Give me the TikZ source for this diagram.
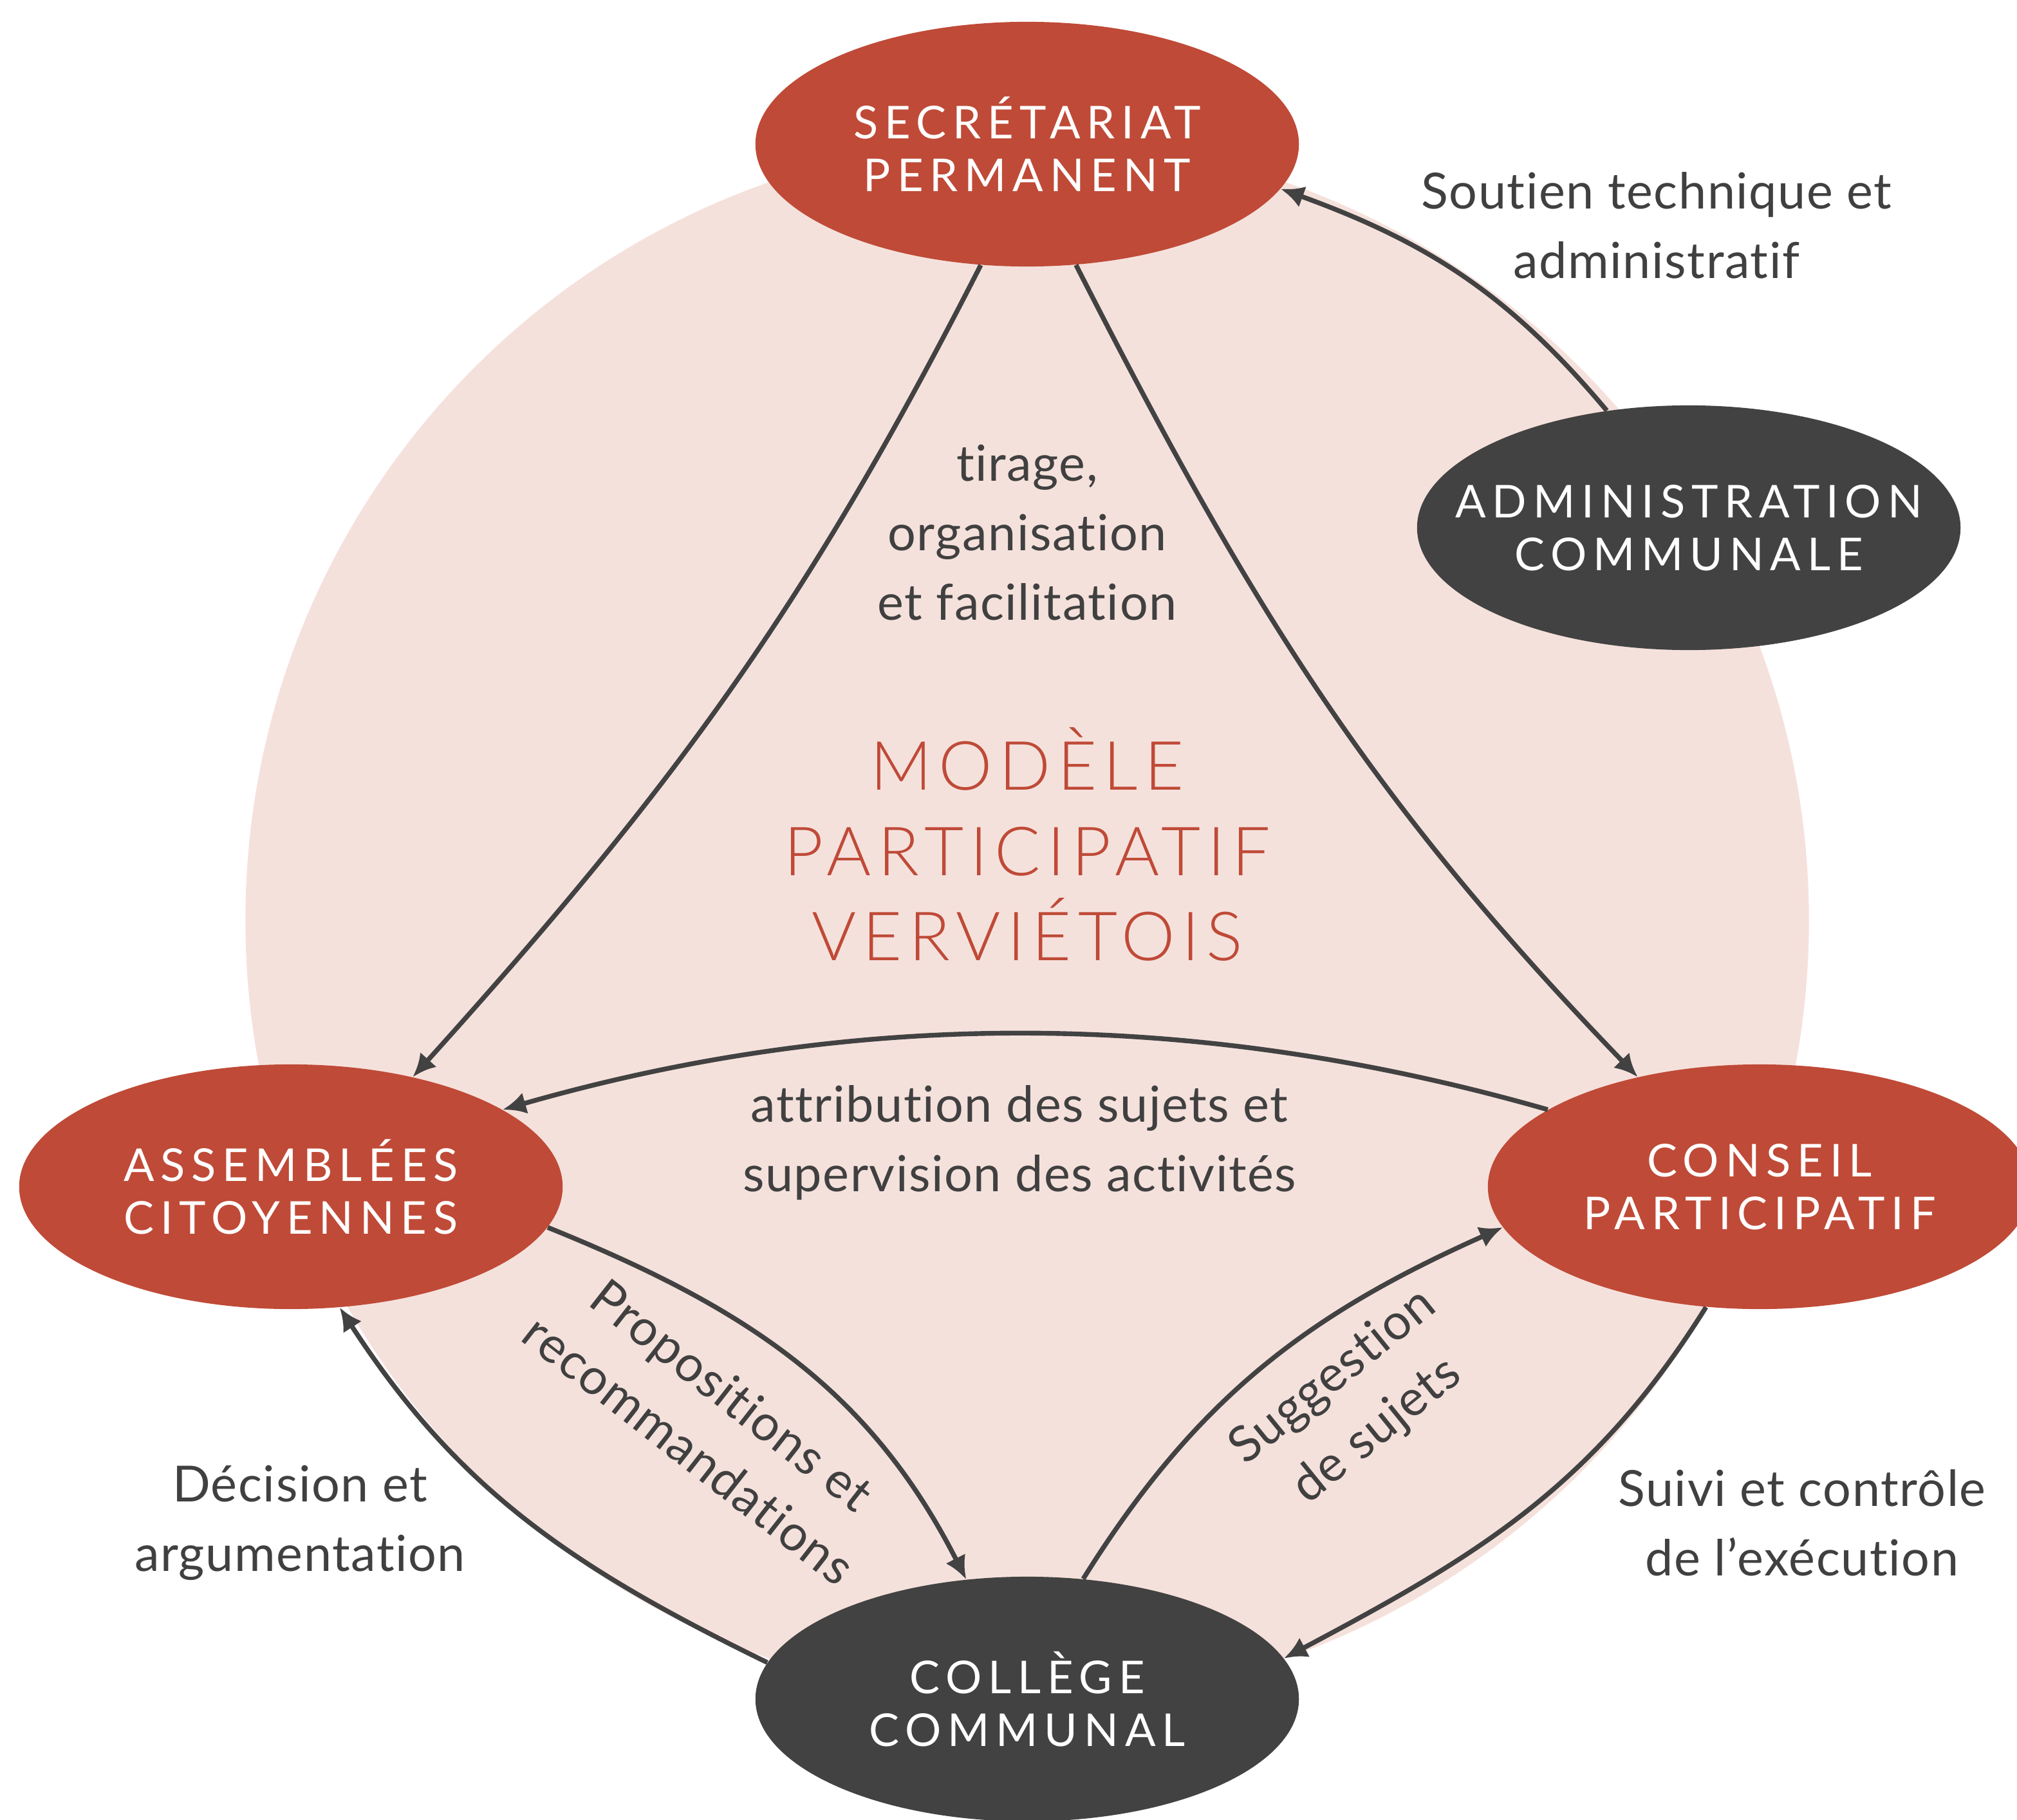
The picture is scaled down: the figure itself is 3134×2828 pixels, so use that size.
\documentclass[tikz,border=0pt]{standalone}
\usepackage{fontspec}
\setmainfont{Lato}[Ligatures=NoCommon]
\newfontfamily\capsfont{Lato}[LetterSpace=14,Ligatures=NoCommon]
\newfontfamily\titlefont{Lato Light}[LetterSpace=10,Ligatures=NoCommon]
\newfontfamily\labelfont{Lato}[LetterSpace=2,Ligatures=NoCommon]
\usetikzlibrary{shapes.geometric,arrows.meta}
\definecolor{rouge}{HTML}{BF4A37}
\definecolor{anthra}{HTML}{424242}
\definecolor{rose}{HTML}{F5E1DC}
\definecolor{txt}{HTML}{404040}
\begin{document}
\begin{tikzpicture}[x=0.01cm,y=-0.01cm,
  blob/.style={ellipse, minimum width=8.44cm, minimum height=3.8cm, inner sep=0pt, draw=none},
  redblob/.style={blob, fill=rouge},
  darkblob/.style={blob, fill=anthra},
  captxt/.style={text=white, align=center, inner sep=0pt, font=\capsfont\fontsize{20}{23.3}\selectfont},
  lbl/.style={text=txt, align=center, inner sep=0pt, font=\labelfont\fontsize{22}{30.7}\selectfont},
  ttl/.style={text=rouge, align=center, inner sep=0pt, font=\titlefont\fontsize{30}{37.6}\selectfont},
  conn/.style={draw=anthra, line width=2.1pt, -{Latex[length=0.36cm,width=0.34cm]}},
]
\useasboundingbox (0,0) rectangle (3134,2828);
\clip (0,0) rectangle (3134,2828);
\fill[rose] (1596,1430) circle[radius=12.14cm];

% nodes
\node[redblob]  (S) at (1596,224)  {};
\node[darkblob] (D) at (2624,820)  {};
\node[redblob]  (A) at (452,1844)  {};
\node[redblob]  (C) at (2734,1844) {};
\node[darkblob] (K) at (1596,2640) {};

\node[captxt] (St) at (S) {SECRÉTARIAT\\PERMANENT};
\node[captxt] (Dt) at (D) {ADMINISTRATION\\COMMUNALE};
\node[captxt] (At) at (A) {ASSEMBLÉES\\CITOYENNES};
\node[captxt] (Ct) at (C) {CONSEIL\\PARTICIPATIF};
\node[captxt] (Kt) at (K) {COLLÈGE\\COMMUNAL};

\node[ttl] (T) at (1596,1312) {MODÈLE\\PARTICIPATIF\\VERVIÉTOIS};

% labels
\node[lbl] (L1) at (2574,350)  {Soutien technique et\\administratif};
\node[lbl] (L2) at (1596,828)  {tirage,\\organisation\\et facilitation};
\node[lbl] (L3) at (1584,1776) {attribution des sujets et\\supervision des activités};
\node[lbl] (L4) at (466,2366)  {Décision et\\argumentation};
\node[lbl] (L5) at (2800,2366) {Suivi et contrôle\\de l’exécution};
\node[lbl, rotate=-38] (L6) at (1104,2210) {Propositions et\\recommandations};
\node[lbl, rotate=39]  (L7) at (2106,2182) {Suggestion\\de sujets};

% connectors
\draw[conn] (S.249) to[out=243, in=48] (A.42);
\draw[conn] (S.292) to[out=297, in=134] (C.138);
\draw[conn] (C.160) to[out=164, in=16, looseness=0.9] (A.20);
\draw[conn] (A.351) to[out=-22, in=117] (K.117);
\draw[conn] (K.172) to[out=154, in=303] (A.292);
\draw[conn] (K.65) to[out=58, in=204] (C.189);
\draw[conn] (C.246) to[out=238, in=28] (K.9);
\draw[conn] (D.125) to[out=130, in=340] (S.350);
\end{tikzpicture}
\end{document}
